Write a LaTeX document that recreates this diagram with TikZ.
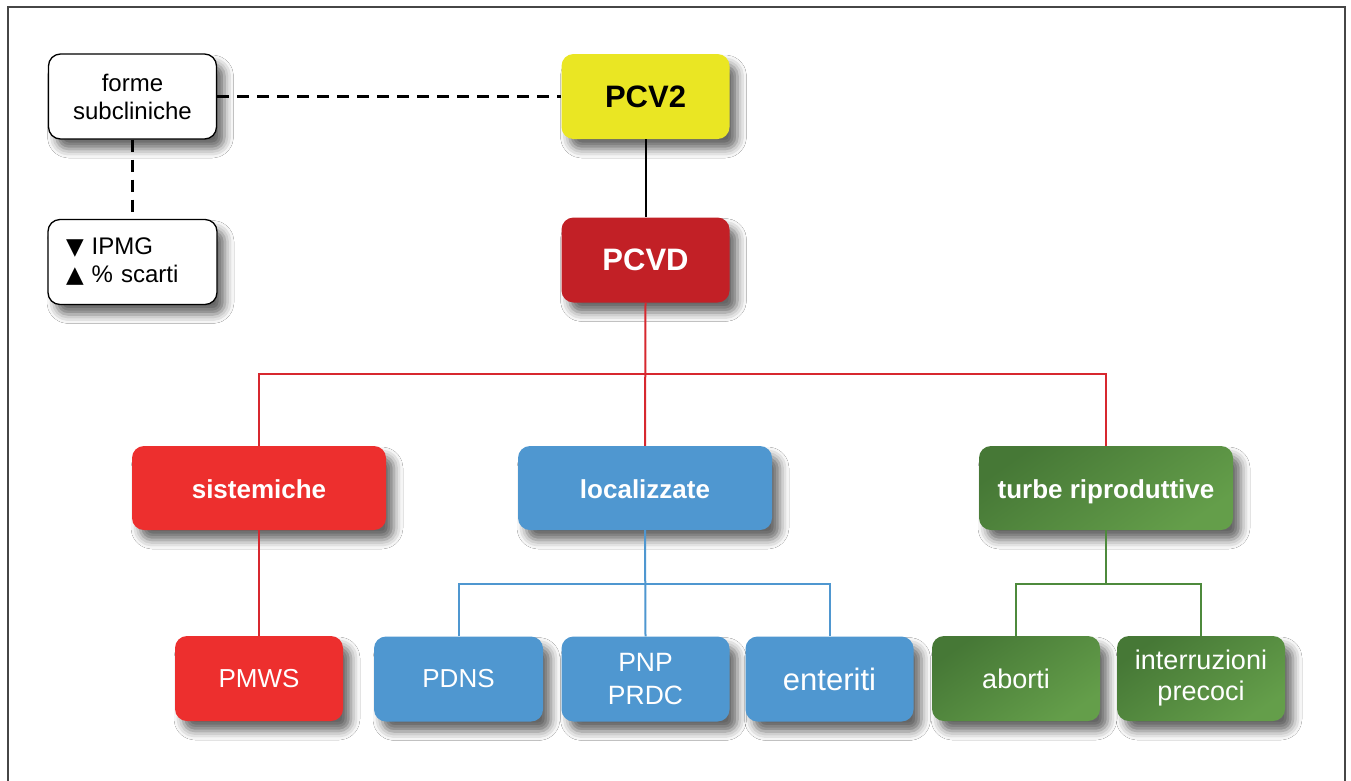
\documentclass[tikz,border=0pt]{standalone}
\usepackage{fontspec}
\setmainfont{Liberation Sans}
\newfontfamily\djv{DejaVu Sans}
\usetikzlibrary{shadows.blur}
\definecolor{cyellow}{RGB}{234,230,35}
\definecolor{cdred}{RGB}{194,32,38}
\definecolor{cred}{RGB}{237,47,46}
\definecolor{cblue}{RGB}{79,151,208}
\definecolor{cgdark}{RGB}{70,120,54}
\definecolor{cglight}{RGB}{100,158,74}
\definecolor{lred}{RGB}{215,40,47}
\definecolor{lgreen}{RGB}{77,138,60}
\definecolor{frame}{RGB}{70,70,70}
\tikzset{
  box/.style={rounded corners=12pt, minimum width=168pt, minimum height=85pt, inner sep=0pt, align=center,
    blur shadow={shadow xshift=8pt, shadow yshift=-10pt, shadow blur radius=9pt, shadow opacity=60}},
  wbox/.style={box, draw=black, line width=1.3pt, fill=white, font=\fontsize{24}{28}\selectfont},
  bigbox/.style={box, font=\fontsize{31}{36}\selectfont\bfseries},
  midbox/.style={box, minimum width=254pt, minimum height=84pt, text=white, text height=24pt, text depth=4pt, font=\fontsize{26}{30}\selectfont\bfseries},
  leaf/.style={box, text=white, font=\fontsize{26}{32}\selectfont},
  gshade/.style={top color=cgdark, bottom color=cglight, shading angle=35},
  dline/.style={black, line width=2.5pt, dash pattern=on 12pt off 8pt},
  cline/.style={line width=2pt}
}
\newcommand{\tri}[1]{{\djv\fontsize{23}{28}\selectfont #1}}
\begin{document}
\begin{tikzpicture}[x=1pt,y=-1pt]
\useasboundingbox (0,0) rectangle (1351,780);
\fill[white] (0,0) rectangle (1351,780);
\draw[frame, line width=2pt] (8,781) -- (8,7) -- (1345,7) -- (1345,781);

% nodes
\node[wbox] (forme) at (132.5,96.5) {forme\\subcliniche};
\node[wbox, text width=133pt, inner xsep=18pt, align=left] (ipmg) at (132.5,262) {\tri{▼} IPMG\\\tri{▲} \% scarti};
\node[bigbox, fill=cyellow, text=black] (pcv2) at (645.5,96.5) {PCV2};
\node[bigbox, fill=cdred, text=white] (pcvd) at (645.5,260) {PCVD};

\node[midbox, fill=cred] (sist) at (259,488) {sistemiche};
\node[midbox, fill=cblue] (loc) at (645,488) {localizzate};
\node[midbox, gshade] (turbe) at (1106,488) {turbe riproduttive};

\node[leaf, fill=cred] (pmws) at (259,678.5) {PMWS};
\node[leaf, fill=cblue, minimum width=169pt] (pdns) at (458.5,679) {PDNS};
\node[leaf, fill=cblue, font=\fontsize{26.5}{33}\selectfont] (pnp) at (645.5,679) {PNP\\PRDC};
\node[leaf, fill=cblue, font=\fontsize{31}{36}\selectfont] (ent) at (829.5,679) {enteriti};
\node[leaf, gshade, font=\fontsize{27}{32}\selectfont] (abo) at (1016,678.5) {aborti};
\node[leaf, gshade, font=\fontsize{27}{31}\selectfont] (intr) at (1201,678.5) {interruzioni\\precoci};

% bus coordinates
\coordinate (rbus) at (645,374);
\coordinate (bbus) at (645,584);
\coordinate (gbus) at (1106,584);

% connectors
\draw[dline] (forme.east) -- (pcv2.west);
\draw[dline] (forme.south) -- (ipmg.north);
\draw[cline, black] (pcv2.south) -- (pcvd.north);
\draw[cline, lred] (pcvd.south) -- (loc.north);
\draw[cline, lred] (sist.north) |- (rbus) -| (turbe.north);
\draw[cline, lred] (sist.south) -- (pmws.north);
\draw[cline, cblue] (loc.south) -- (pnp.north);
\draw[cline, cblue] (pdns.north) |- (bbus) -| (ent.north);
\draw[cline, lgreen] (turbe.south) -- (gbus);
\draw[cline, lgreen] (abo.north) |- (gbus) -| (intr.north);
\end{tikzpicture}
\end{document}
